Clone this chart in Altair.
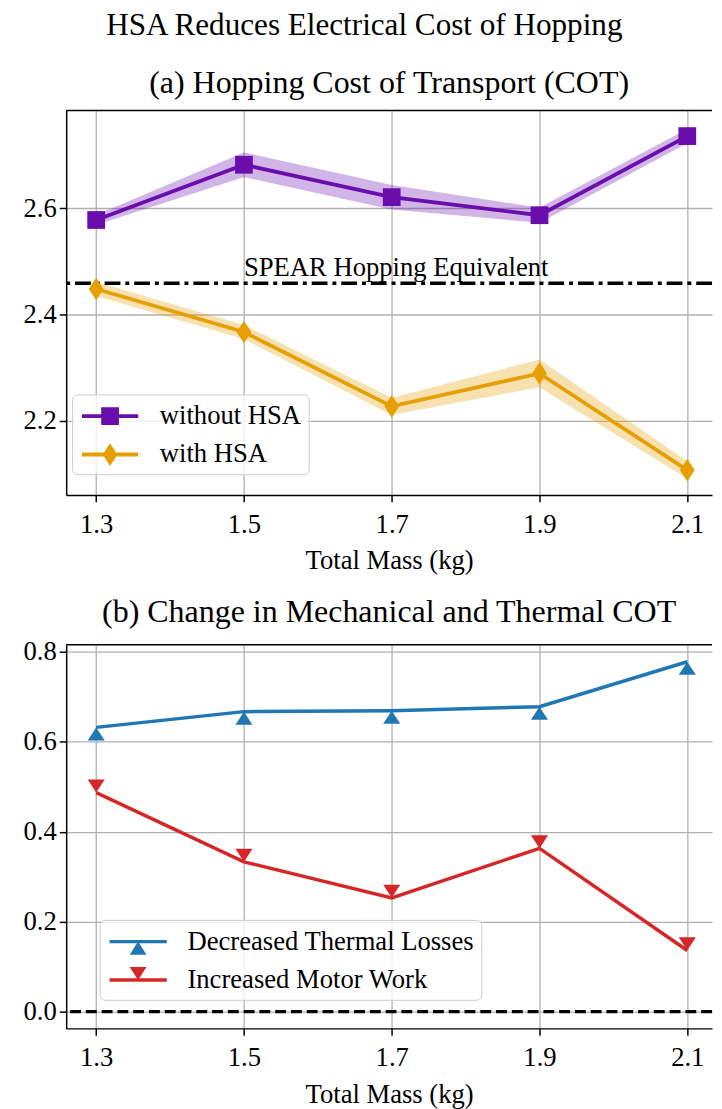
import altair as alt
import pandas as pd

FONT = "Liberation Serif"

# ---------------- data ----------------
mass = [1.3, 1.5, 1.7, 1.9, 2.1]

series_a = ["without HSA", "with HSA"]
cot_without = [2.578, 2.682, 2.621, 2.587, 2.736]
cot_without_lo = [2.570, 2.660, 2.599, 2.574, 2.724]
cot_without_hi = [2.586, 2.704, 2.643, 2.600, 2.748]
cot_with = [2.448, 2.367, 2.227, 2.289, 2.107]
cot_with_lo = [2.436, 2.355, 2.212, 2.264, 2.092]
cot_with_hi = [2.460, 2.379, 2.242, 2.314, 2.122]
spear_value = [2.459]
spear_label = ["SPEAR Hopping Equivalent"]
spear_label_x = [1.5]

series_b = ["Decreased Thermal Losses", "Increased Motor Work"]
thermal = [0.632, 0.667, 0.669, 0.678, 0.778]
motor = [0.487, 0.333, 0.253, 0.363, 0.136]
zero_line = [0.0]

x_ticks = [1.3, 1.5, 1.7, 1.9, 2.1]
y_ticks_a = [2.2, 2.4, 2.6]
y_ticks_b = [0.0, 0.2, 0.4, 0.6, 0.8]

colors_a = ["#6a0dad", "#e69f00"]
colors_b = ["#1f77b4", "#d62728"]

# ---------------- tables ----------------
df_a = pd.DataFrame({
    "mass": mass * 2,
    "series": [series_a[0]] * 5 + [series_a[1]] * 5,
    "cot": cot_without + cot_with,
    "lo": cot_without_lo + cot_with_lo,
    "hi": cot_without_hi + cot_with_hi,
})
df_b = pd.DataFrame({
    "mass": mass * 2,
    "series": [series_b[0]] * 5 + [series_b[1]] * 5,
    "val": thermal + motor,
})
df_spear = pd.DataFrame({"y": spear_value, "x": spear_label_x, "label": spear_label})
df_zero = pd.DataFrame({"y": zero_line})

W = 655
H_A = 390
H_B = 389
FS = 27

# shapes (custom symbol paths, unit box)
SQUARE = "square"
DIAMOND = "M0,-1L0.65,0L0,1L-0.65,0Z"
TRI_UP = "M0,0L0.65,1L-0.65,1Z"
TRI_DOWN = "M0,0L-0.65,-1L0.65,-1Z"
LEG_SQUARE = "M-0.8,-0.13L3,-0.13L3,0.13L-0.8,0.13Z M0.5,-0.6L1.7,-0.6L1.7,0.6L0.5,0.6Z"
LEG_DIAMOND = "M-0.8,-0.13L3,-0.13L3,0.13L-0.8,0.13Z M1.1,-0.77L1.6,0L1.1,0.77L0.6,0Z"
LEG_UP = "M-0.8,-0.117L3.07,-0.117L3.07,0.117L-0.8,0.117Z M1.13,0L1.7,0.89L0.56,0.89Z"
LEG_DOWN = "M-0.8,-0.117L3.07,-0.117L3.07,0.117L-0.8,0.117Z M1.13,0L0.56,-0.89L1.7,-0.89Z"

x_scale = alt.Scale(domain=[1.2594, 2.1335], nice=False, zero=False)
x_axis = alt.Axis(values=x_ticks, format=".1f", title="Total Mass (kg)")
x_enc = alt.X("mass:Q", scale=x_scale, axis=x_axis)
x_enc_s = alt.X("x:Q", scale=x_scale, axis=x_axis)

ya_scale = alt.Scale(domain=[2.0602, 2.7844], nice=False, zero=False)
ya_axis = alt.Axis(values=y_ticks_a, format=".1f", title=None)
yb_scale = alt.Scale(domain=[-0.0372, 0.8156], nice=False, zero=False)
yb_axis = alt.Axis(values=y_ticks_b, format=".1f", title=None)

col_a = alt.Scale(domain=series_a, range=colors_a)
col_b = alt.Scale(domain=series_b, range=colors_b)

legend_common = dict(
    title=None, orient="none", labelFontSize=FS, labelFont=FONT, labelColor="black",
    symbolSize=900, symbolOpacity=1, symbolStrokeWidth=0,
    labelOffset=52, padding=7, fillColor="rgba(255,255,255,0.8)",
    strokeColor="#cccccc", cornerRadius=5, labelLimit=400,
)

# ---------------- panel (a) ----------------
base_a = alt.Chart(df_a)
leg_a = base_a.mark_point(filled=True, opacity=0).encode(
    x=x_enc, y=alt.Y("cot:Q", scale=ya_scale, axis=ya_axis),
    color=alt.Color("series:N", scale=col_a,
                    legend=alt.Legend(legendX=6, legendY=288, rowPadding=11, **legend_common)),
    shape=alt.Shape("series:N", scale=alt.Scale(domain=series_a, range=[LEG_SQUARE, LEG_DIAMOND]),
                    legend=alt.Legend(legendX=6, legendY=288, rowPadding=11, **legend_common)),
)
band_a = base_a.mark_area(opacity=0.3, strokeWidth=1.2).encode(
    x=x_enc,
    y=alt.Y("lo:Q", scale=ya_scale, axis=ya_axis),
    y2="hi:Q",
    color=alt.Color("series:N", scale=col_a, legend=None),
    stroke=alt.Stroke("series:N", scale=col_a, legend=None),
)
line_a = base_a.mark_line(strokeWidth=3.8).encode(
    x=x_enc,
    y=alt.Y("cot:Q", scale=ya_scale, axis=ya_axis),
    color=alt.Color("series:N", scale=col_a, legend=None),
)
pts_a1 = base_a.transform_filter(alt.datum.series == series_a[0]).mark_point(
    filled=True, opacity=1, shape=SQUARE, size=324
).encode(x=x_enc, y=alt.Y("cot:Q", scale=ya_scale, axis=ya_axis),
         color=alt.Color("series:N", scale=col_a, legend=None))
pts_a2 = base_a.transform_filter(alt.datum.series == series_a[1]).mark_point(
    filled=True, opacity=1, shape=DIAMOND, size=529
).encode(x=x_enc, y=alt.Y("cot:Q", scale=ya_scale, axis=ya_axis),
         color=alt.Color("series:N", scale=col_a, legend=None))
spear_rule = alt.Chart(df_spear).mark_rule(
    color="black", strokeWidth=3.5, strokeDash=[16, 5, 4, 5]
).encode(y=alt.Y("y:Q", scale=ya_scale, axis=ya_axis))
spear_text = alt.Chart(df_spear).mark_text(
    align="left", baseline="alphabetic", dy=-7, fontSize=FS, font=FONT, color="black"
).encode(x=x_enc_s, y=alt.Y("y:Q", scale=ya_scale, axis=ya_axis), text="label:N")
top_a = alt.Chart(df_spear).mark_rule(color="black", strokeWidth=1.5).encode(
    x=alt.value(0), x2=alt.value(W), y=alt.value(0)
)
panel_a = alt.layer(
    leg_a, band_a, spear_rule, line_a, pts_a1, pts_a2, spear_text, top_a
).properties(
    width=W, height=H_A,
    title=alt.TitleParams("(a) Hopping Cost of Transport (COT)", fontSize=32.4, font=FONT,
                          fontWeight="normal", anchor="middle", offset=10),
)

# ---------------- panel (b) ----------------
base_b = alt.Chart(df_b)
leg_b = base_b.mark_point(filled=True, opacity=0).encode(
    x=x_enc, y=alt.Y("val:Q", scale=yb_scale, axis=yb_axis),
    color=alt.Color("series:N", scale=col_b,
                    legend=alt.Legend(legendX=34, legendY=279, rowPadding=10, **legend_common)),
    shape=alt.Shape("series:N", scale=alt.Scale(domain=series_b, range=[LEG_UP, LEG_DOWN]),
                    legend=alt.Legend(legendX=34, legendY=279, rowPadding=10, **legend_common)),
)
line_b = base_b.mark_line(strokeWidth=3.5).encode(
    x=x_enc,
    y=alt.Y("val:Q", scale=yb_scale, axis=yb_axis),
    color=alt.Color("series:N", scale=col_b, legend=None),
)
pts_b1 = base_b.transform_filter(alt.datum.series == series_b[0]).mark_point(
    filled=True, opacity=1, shape=TRI_UP, size=708
).encode(x=x_enc, y=alt.Y("val:Q", scale=yb_scale, axis=yb_axis),
         color=alt.Color("series:N", scale=col_b, legend=None))
pts_b2 = base_b.transform_filter(alt.datum.series == series_b[1]).mark_point(
    filled=True, opacity=1, shape=TRI_DOWN, size=708
).encode(x=x_enc, y=alt.Y("val:Q", scale=yb_scale, axis=yb_axis),
         color=alt.Color("series:N", scale=col_b, legend=None))
zero_rule = alt.Chart(df_zero).mark_rule(
    color="black", strokeWidth=3.2, strokeDash=[11, 5]
).encode(y=alt.Y("y:Q", scale=yb_scale, axis=yb_axis))
top_b = alt.Chart(df_zero).mark_rule(color="black", strokeWidth=1.5).encode(
    x=alt.value(0), x2=alt.value(W), y=alt.value(0)
)
panel_b = alt.layer(
    leg_b, zero_rule, line_b, pts_b1, pts_b2, top_b
).properties(
    width=W, height=H_B,
    title=alt.TitleParams("(b) Change in Mechanical and Thermal COT", fontSize=32.4, font=FONT,
                          fontWeight="normal", anchor="middle", offset=10),
)

chart = alt.vconcat(panel_a, panel_b, spacing=22).resolve_scale(
    color="independent", shape="independent", x="independent", y="independent"
).resolve_legend(color="independent", shape="independent").properties(
    title=alt.TitleParams("HSA Reduces Electrical Cost of Hopping", fontSize=31.6, font=FONT,
                          fontWeight="normal", anchor="middle", offset=27),
    padding={"left": 7, "right": 0, "top": -6, "bottom": 0},
    background="white",
).configure_view(
    strokeWidth=0
).configure_axis(
    labelFont=FONT, titleFont=FONT, labelFontSize=FS, titleFontSize=FS,
    titleFontWeight="normal", labelColor="black", titleColor="black",
    domainColor="black", domainWidth=1.5, tickColor="black", tickWidth=1.5,
    tickSize=7, gridColor="#b0b0b0", gridWidth=1.3, labelPadding=10, titlePadding=11,
).configure_axisY(
    minExtent=52, maxExtent=52, labelPadding=3,
).configure_title(
    font=FONT, color="black",
)

chart.save("out.html", embed_options={"renderer": "svg", "actions": False})
